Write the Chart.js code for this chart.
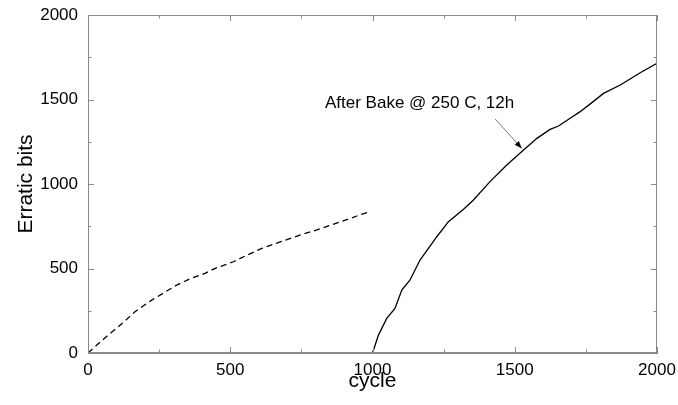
<!DOCTYPE html>
<html>
<head>
<meta charset="utf-8">
<script src="https://cdn.jsdelivr.net/npm/chart.js"></script>
<style>
  html, body { margin: 0; padding: 0; background: #fff; }
  #wrap { width: 678px; height: 405px; }
</style>
</head>
<body>
<div id="wrap"><canvas id="bitsChart" width="678" height="405"></canvas></div>
<script>
// values
const beforeCycles = [0, 60, 120, 165, 224, 270, 312, 360, 411, 447, 511, 560, 611, 680, 745, 804, 860, 920, 960, 991];
const beforeBits   = [0, 90, 175, 244, 313, 360, 402, 440, 471, 501, 540, 580, 619, 660, 698, 728, 760, 795, 820, 836];

const afterCycles = [1000, 1021, 1050, 1079, 1103, 1132, 1167, 1226, 1267, 1320, 1355, 1413, 1472, 1531, 1578, 1624, 1654, 1700, 1730, 1770, 1812, 1871, 1941, 2000];
const afterBits   = [0, 106, 205, 264, 373, 432, 550, 688, 777, 850, 905, 1014, 1112, 1201, 1270, 1323, 1343, 1395, 1428, 1480, 1536, 1586, 1658, 1714];

const xTicks = [0, 500, 1000, 1500, 2000];
const yTicks = [0, 500, 1000, 1500, 2000];
const minorStep = 250;

const noteText = 'After Bake @ 250 C, 12h';
const noteAt = { x: 833, y: 1450 };
const arrowFrom = { x: 1431, y: 1385 };
const arrowTo = { x: 1525, y: 1210 };

const axisGray = '#8a8a8a';
const fontFam = '"Liberation Sans", Arial, Helvetica, sans-serif';

function toPoints(xs, ys) {
    return xs.map((x, i) => ({ x: x, y: ys[i] }));
}

// ticks pointing inward on all four sides, plus the top/right frame
const frameTicks = {
    id: 'frameTicks',
    afterDatasetsDraw(chart) {
        const { ctx, chartArea: a, scales } = chart;
        const xs = scales.x, ys = scales.y;
        ctx.save();
        ctx.strokeStyle = axisGray;
        ctx.lineWidth = 1;
        ctx.strokeRect(a.left + 0.5, a.top + 0.5, a.right - a.left - 1, a.bottom - a.top - 1);
        ctx.beginPath();
        for (let v = 0; v <= 2000; v += minorStep) {
            const len = (v % 500 === 0) ? 6 : 3.5;
            const px = Math.round(xs.getPixelForValue(v)) + 0.5;
            ctx.moveTo(px, a.bottom); ctx.lineTo(px, a.bottom - len);
            ctx.moveTo(px, a.top); ctx.lineTo(px, a.top + len);
            const py = Math.round(ys.getPixelForValue(v)) + 0.5;
            ctx.moveTo(a.left, py); ctx.lineTo(a.left + len, py);
            ctx.moveTo(a.right, py); ctx.lineTo(a.right - len, py);
        }
        ctx.stroke();

        // annotation
        ctx.fillStyle = '#000';
        ctx.font = '17px ' + fontFam;
        ctx.textBaseline = 'alphabetic';
        ctx.fillText(noteText, xs.getPixelForValue(noteAt.x), ys.getPixelForValue(noteAt.y));

        const x1 = xs.getPixelForValue(arrowFrom.x), y1 = ys.getPixelForValue(arrowFrom.y);
        const x2 = xs.getPixelForValue(arrowTo.x), y2 = ys.getPixelForValue(arrowTo.y);
        ctx.strokeStyle = '#555';
        ctx.lineWidth = 0.8;
        ctx.beginPath();
        ctx.moveTo(x1, y1); ctx.lineTo(x2, y2);
        ctx.stroke();
        const ang = Math.atan2(y2 - y1, x2 - x1);
        ctx.fillStyle = '#000';
        ctx.beginPath();
        ctx.moveTo(x2, y2);
        ctx.lineTo(x2 - 8 * Math.cos(ang - 0.35), y2 - 8 * Math.sin(ang - 0.35));
        ctx.lineTo(x2 - 8 * Math.cos(ang + 0.35), y2 - 8 * Math.sin(ang + 0.35));
        ctx.closePath();
        ctx.fill();
        ctx.restore();
    }
};

document.addEventListener("DOMContentLoaded", function () {
    const ctx = document.getElementById('bitsChart').getContext('2d');
    new Chart(ctx, {
        type: 'line',
        data: {
            datasets: [{
                label: 'before bake',
                data: toPoints(beforeCycles, beforeBits),
                borderColor: '#000',
                borderWidth: 1.3,
                borderDash: [6, 4],
                pointRadius: 0,
                fill: false,
                tension: 0
            }, {
                label: 'after bake',
                data: toPoints(afterCycles, afterBits),
                borderColor: '#000',
                borderWidth: 1.3,
                pointRadius: 0,
                fill: false,
                tension: 0
            }]
        },
        options: {
            responsive: false,
            animation: false,
            layout: { padding: { top: 15, right: 21, left: 0, bottom: 0 } },
            plugins: {
                legend: { display: false },
                tooltip: { enabled: false }
            },
            scales: {
                x: {
                    type: 'linear',
                    min: 0,
                    max: 2000,
                    afterFit(s) { s.height = 52; s.paddingLeft = 0; s.paddingRight = 0; },
                    afterBuildTicks(s) { s.ticks = xTicks.map(v => ({ value: v })); },
                    grid: { drawOnChartArea: false, drawTicks: false },
                    border: { color: axisGray, width: 1 },
                    ticks: { color: '#000', font: { size: 17, family: fontFam }, padding: 7, maxRotation: 0,
                             callback: v => String(v) },
                    title: { display: true, text: 'cycle', color: '#000', font: { size: 21, family: fontFam }, padding: { top: 0, bottom: 11 } }
                },
                y: {
                    type: 'linear',
                    min: 0,
                    max: 2000,
                    afterFit(s) { s.width = 88; s.paddingTop = 0; s.paddingBottom = 0; },
                    afterBuildTicks(s) { s.ticks = yTicks.map(v => ({ value: v })); },
                    grid: { drawOnChartArea: false, drawTicks: false },
                    border: { color: axisGray, width: 1 },
                    ticks: { color: '#000', font: { size: 17, family: fontFam }, padding: 10,
                             callback: v => String(v) },
                    title: { display: true, text: 'Erratic bits', color: '#000', font: { size: 21, family: fontFam }, padding: { top: 14, bottom: 0 } }
                }
            }
        },
        plugins: [frameTicks]
    });
});
</script>
</body>
</html>
